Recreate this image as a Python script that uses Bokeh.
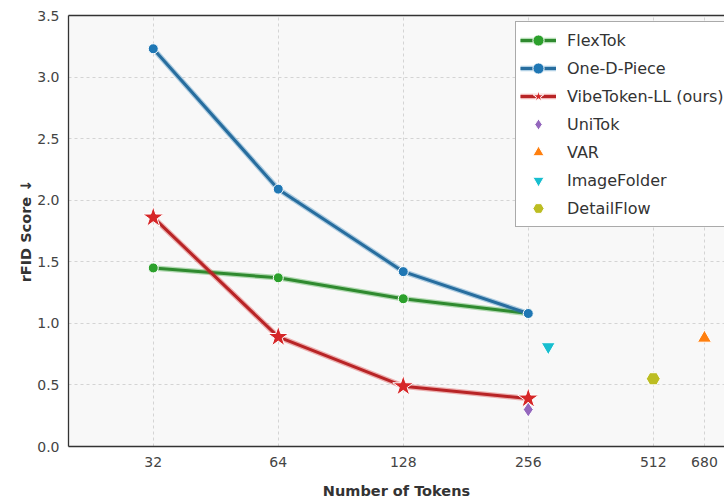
from bokeh.plotting import figure
from bokeh.models import FixedTicker, Legend, LegendItem, Range1d, LogAxis
from bokeh.embed import file_html
from bokeh.resources import INLINE

# ---- data ----
tokens = [32, 64, 128, 256]
flextok = [1.45, 1.37, 1.20, 1.08]
onedpiece = [3.23, 2.09, 1.42, 1.08]
vibetoken = [1.86, 0.89, 0.49, 0.39]
unitok_x, unitok_y = [256], [0.30]
var_x, var_y = [680], [0.88]
imagefolder_x, imagefolder_y = [286], [0.81]
detailflow_x, detailflow_y = [512], [0.55]
x_ticks = [32, 64, 128, 256, 512, 680]
y_ticks = [0, 0.5, 1, 1.5, 2, 2.5, 3, 3.5]

FONT = "DejaVu Sans"

p = figure(width=724, height=501, x_axis_type="log",
           x_range=Range1d(20, 760), y_range=Range1d(0, 3.5),
           output_backend="svg", toolbar_location=None,
           min_border_left=68, min_border_right=0, min_border_top=15, min_border_bottom=53)

p.background_fill_color = "#f8f8f8"
p.border_fill_color = "white"
p.outline_line_color = None

xb = p.xaxis[0]
yl = p.yaxis[0]

top = LogAxis(ticker=FixedTicker(ticks=[], minor_ticks=[]),
              major_label_text_font_size="0px", axis_line_color="#333333",
              axis_line_width=1.3, major_tick_out=0, major_tick_in=0,
              minor_tick_out=0, minor_tick_in=0, major_label_standoff=0)
p.add_layout(top, "above")

xb.ticker = FixedTicker(ticks=x_ticks, minor_ticks=[])
xb.major_label_overrides = {t: str(t) for t in x_ticks}
yl.ticker = FixedTicker(ticks=y_ticks, minor_ticks=[])
yl.major_label_overrides = {t: f"{t:.1f}" for t in y_ticks}
for ax in (xb, yl):
    ax.axis_line_color = "#333333"
    ax.axis_line_width = 1.3
    ax.major_tick_out = 0
    ax.major_tick_in = 0
    ax.minor_tick_out = 0
    ax.minor_tick_in = 0
    ax.major_label_text_font = FONT
    ax.major_label_text_font_size = "14px"
    ax.major_label_text_color = "#444444"
    ax.axis_label_text_font = FONT
    ax.axis_label_text_font_size = "14.5px"
    ax.axis_label_text_font_style = "bold"
    ax.axis_label_text_color = "#333333"
xb.major_label_standoff = 10
yl.major_label_standoff = 9
xb.axis_label = "Number of Tokens"
yl.axis_label = "rFID Score ↓"
xb.axis_label_standoff = 13
yl.axis_label_standoff = 0

for g in (p.xgrid, p.ygrid):
    g.grid_line_color = "#d4d4d4"
    g.grid_line_dash = "3 3"
    g.grid_line_width = 1

def series(xs, ys, color, dark, marker, size):
    halo = p.line(xs, ys, line_color=color, line_width=5.5, line_alpha=0.35)
    ln = p.line(xs, ys, line_color=dark, line_width=3)
    sc = p.scatter(xs, ys, marker=marker, size=size, fill_color=color,
                   line_color="white", line_width=1)
    return [halo, ln, sc]

r_flex = series(tokens, flextok, "#2ca02c", "#2f8a2f", "circle", 10)
r_oned = series(tokens, onedpiece, "#1f77b4", "#276d9e", "circle", 10)
r_vibe = series(tokens, vibetoken, "#d62728", "#b82426", "star", 22)

r_uni = p.scatter(unitok_x, unitok_y, marker="diamond", size=15,
                  fill_color="#9467bd", line_color="white", line_width=1)
r_var = p.scatter(var_x, var_y, marker="triangle", size=14,
                  fill_color="#ff7f0e", line_color="white", line_width=1)
r_img = p.scatter(imagefolder_x, imagefolder_y, marker="inverted_triangle", size=14,
                  fill_color="#17becf", line_color="white", line_width=1)
r_det = p.scatter(detailflow_x, detailflow_y, marker="hex", size=14,
                  fill_color="#bcbd22", line_color="white", line_width=1)

legend = Legend(items=[
    LegendItem(label="FlexTok", renderers=r_flex),
    LegendItem(label="One-D-Piece", renderers=r_oned),
    LegendItem(label="VibeToken-LL (ours)", renderers=r_vibe),
    LegendItem(label="UniTok", renderers=[r_uni]),
    LegendItem(label="VAR", renderers=[r_var]),
    LegendItem(label="ImageFolder", renderers=[r_img]),
    LegendItem(label="DetailFlow", renderers=[r_det]),
], location=(447, 219))
legend.label_text_font = FONT
legend.label_text_font_size = "16px"
legend.label_text_color = "#333333"
legend.glyph_width = 36
legend.glyph_height = 28
legend.label_height = 20
legend.spacing = 0
legend.padding = 4
legend.margin = 0
legend.label_standoff = 11
legend.border_line_color = "#555555"
legend.border_line_width = 1.2
legend.background_fill_color = "white"
legend.background_fill_alpha = 1
p.add_layout(legend)

open("out.html", "w").write(file_html(p, INLINE))
